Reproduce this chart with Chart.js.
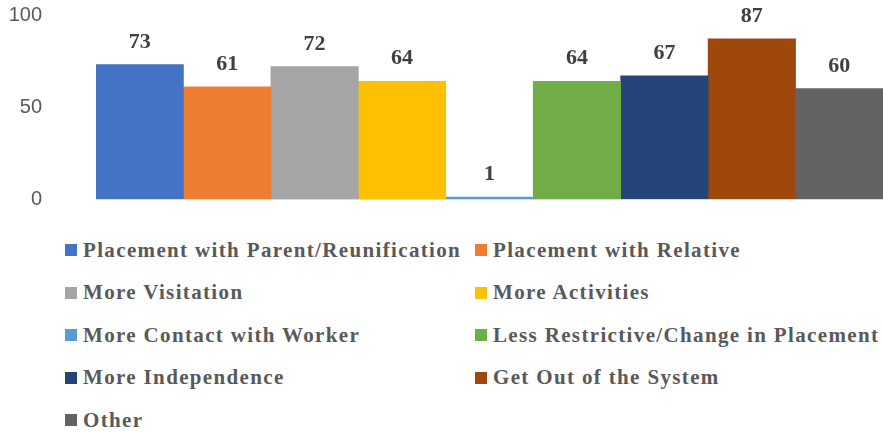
<!DOCTYPE html>
<html>
<head>
<meta charset="utf-8">
<script src="https://cdn.jsdelivr.net/npm/chart.js@4"></script>
<style>
  html, body { margin: 0; padding: 0; background: #fff; }
  #wrap { position: relative; width: 883px; height: 432px; overflow: hidden; }
  #grafico { position: absolute; left: 0; top: 0; }
  #legenda {
    position: absolute; left: 65px; top: 229px;
    display: grid; grid-template-columns: 410px auto; grid-auto-rows: 42.5px;
    font-family: "Liberation Serif", serif; font-weight: bold; font-size: 21px;
    letter-spacing: 1.35px; color: #595959;
  }
  .item { display: flex; align-items: center; height: 42.5px; white-space: nowrap; }
  .caixa { width: 12px; height: 12px; margin-right: 6px; flex: none; }
</style>
</head>
<body>
<div id="wrap">
  <canvas id="grafico" width="883" height="215"></canvas>
  <div id="legenda"></div>
</div>
<script>
// dados do gráfico
const categorias = [
  'Placement with Parent/Reunification',
  'Placement with Relative',
  'More Visitation',
  'More Activities',
  'More Contact with Worker',
  'Less Restrictive/Change in Placement',
  'More Independence',
  'Get Out of the System',
  'Other'
];
const valores = [73, 61, 72, 64, 1, 64, 67, 87, 60];
const cores = ['#4472C4', '#ED7D31', '#A5A5A5', '#FFC000', '#5B9BD5', '#70AD47', '#264478', '#9E480E', '#636363'];
const ticksY = [0, 50, 100];

// um dataset por categoria (barras lado a lado sem espaço)
const datasets = categorias.map((nome, i) => ({
  label: nome,
  data: [valores[i]],
  backgroundColor: cores[i],
  borderWidth: 0,
  categoryPercentage: 1,
  barPercentage: 1
}));

// rótulos de valor acima das barras
const rotulos = {
  id: 'rotulos',
  afterDatasetsDraw(chart) {
    const ctx = chart.ctx;
    ctx.save();
    ctx.font = 'bold 22px "Liberation Serif", serif';
    ctx.fillStyle = '#404040';
    ctx.textAlign = 'center';
    ctx.textBaseline = 'alphabetic';
    chart.data.datasets.forEach((ds, i) => {
      const bar = chart.getDatasetMeta(i).data[0];
      ctx.fillText(String(ds.data[0]), bar.x, bar.y - 17);
    });
    ctx.restore();
  }
};

const ctx = document.getElementById('grafico').getContext('2d');
new Chart(ctx, {
  type: 'bar',
  data: { labels: [''], datasets: datasets },
  options: {
    responsive: false,
    animation: false,
    layout: { padding: { top: 15, bottom: 16, left: 0, right: 0 } },
    scales: {
      x: {
        ticks: { display: false },
        grid: { display: false, drawTicks: false },
        border: { color: '#D9D9D9', width: 1 },
        afterFit: s => { s.height = 0; }
      },
      y: {
        min: 0, max: 100,
        afterBuildTicks: s => { s.ticks = ticksY.map(v => ({ value: v })); },
        ticks: {
          padding: 54,
          color: '#595959',
          font: { family: '"Liberation Sans", sans-serif', size: 20 }
        },
        grid: { display: false, drawTicks: false },
        border: { display: false },
        // largura fixa do eixo e sem folga vertical extra
        afterFit: s => { s.width = 96; s.paddingTop = 0; s.paddingBottom = 0; }
      }
    },
    plugins: {
      legend: { display: false },
      tooltip: { enabled: false }
    }
  },
  plugins: [rotulos]
});

// legenda em duas colunas
const legenda = document.getElementById('legenda');
categorias.forEach((nome, i) => {
  const item = document.createElement('div');
  item.className = 'item';
  item.innerHTML = '<span class="caixa" style="background:' + cores[i] + '"></span>' + nome;
  legenda.appendChild(item);
});
</script>
</body>
</html>
